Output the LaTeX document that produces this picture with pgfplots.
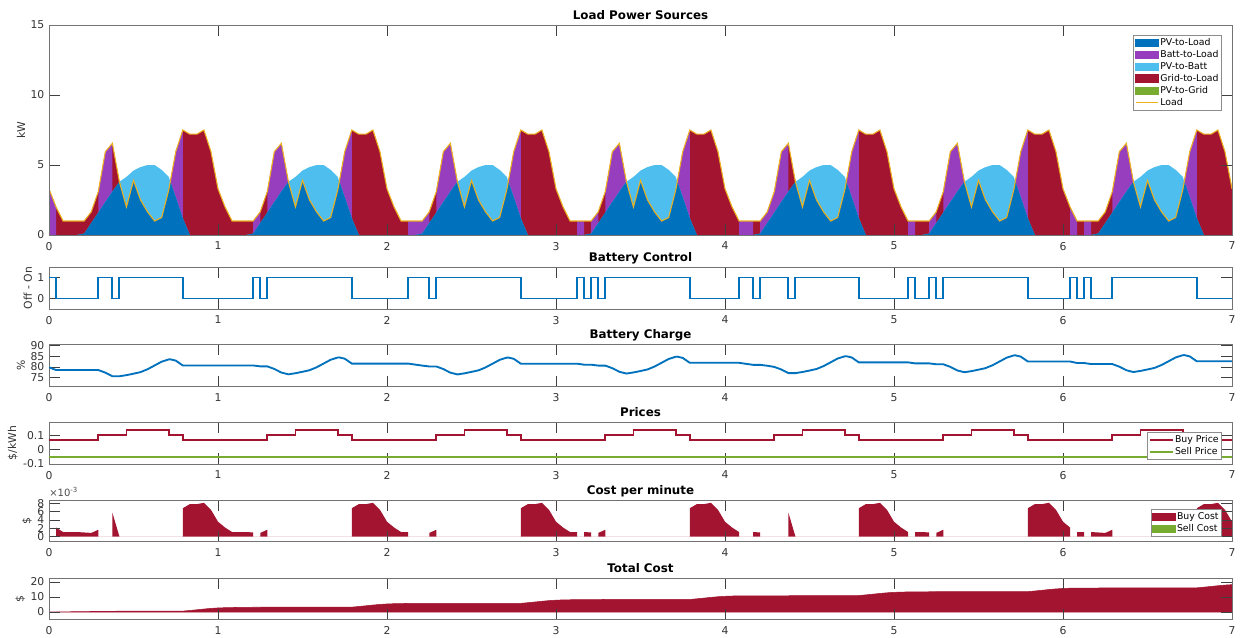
\documentclass[border=0pt]{standalone}
\usepackage{fontspec}
\setmainfont{DejaVu Sans}
\usepackage{pgfplots}
\usepackage{pgfplotstable}
\pgfplotsset{compat=1.18}
\definecolor{cPVL}{HTML}{0072BD}
\definecolor{cBatt}{RGB}{150,62,190}
\definecolor{cPVB}{HTML}{4DBEEE}
\definecolor{cGrid}{HTML}{A2142F}
\definecolor{cPVG}{HTML}{77AC30}
\definecolor{cLoad}{HTML}{EDB120}

% hourly data: h = hour since start (24 h = 1 day), L = load, P = PV, M = PV-to-Load
\pgfplotstableread{
h L P M
0 3.3 0 0
1 2.0 0 0
2 1.0 0 0
3 1.0 0 0
4 1.0 0 0
5 1.0 0.1 0.1
6 1.65 0.85 0.85
7 3.1 1.6 1.6
8 5.95 2.35 2.35
9 6.55 3.1 3.1
10 3.8 3.8 3.8
11 2.0 4.15 2.0
12 3.9 4.6 3.9
13 2.5 4.85 2.5
14 1.65 5.0 1.65
15 1.0 5.0 1.0
16 1.25 4.65 1.25
17 3.2 4.15 3.2
17.226 3.822 3.822 3.822
18 5.95 2.7 2.7
19 7.5 1.2 1.2
20 7.2 0 0
21 7.2 0 0
22 7.5 0 0
23 5.95 0 0
24 3.3 0 0
25 2.0 0 0
26 1.0 0 0
27 1.0 0 0
28 1.0 0 0
29 1.0 0.1 0.1
30 1.65 0.85 0.85
31 3.1 1.6 1.6
32 5.95 2.35 2.35
33 6.55 3.1 3.1
34 3.8 3.8 3.8
35 2.0 4.15 2.0
36 3.9 4.6 3.9
37 2.5 4.85 2.5
38 1.65 5.0 1.65
39 1.0 5.0 1.0
40 1.25 4.65 1.25
41 3.2 4.15 3.2
41.226 3.822 3.822 3.822
42 5.95 2.7 2.7
43 7.5 1.2 1.2
44 7.2 0 0
45 7.2 0 0
46 7.5 0 0
47 5.95 0 0
48 3.3 0 0
49 2.0 0 0
50 1.0 0 0
51 1.0 0 0
52 1.0 0 0
53 1.0 0.1 0.1
54 1.65 0.85 0.85
55 3.1 1.6 1.6
56 5.95 2.35 2.35
57 6.55 3.1 3.1
58 3.8 3.8 3.8
59 2.0 4.15 2.0
60 3.9 4.6 3.9
61 2.5 4.85 2.5
62 1.65 5.0 1.65
63 1.0 5.0 1.0
64 1.25 4.65 1.25
65 3.2 4.15 3.2
65.226 3.822 3.822 3.822
66 5.95 2.7 2.7
67 7.5 1.2 1.2
68 7.2 0 0
69 7.2 0 0
70 7.5 0 0
71 5.95 0 0
72 3.3 0 0
73 2.0 0 0
74 1.0 0 0
75 1.0 0 0
76 1.0 0 0
77 1.0 0.1 0.1
78 1.65 0.85 0.85
79 3.1 1.6 1.6
80 5.95 2.35 2.35
81 6.55 3.1 3.1
82 3.8 3.8 3.8
83 2.0 4.15 2.0
84 3.9 4.6 3.9
85 2.5 4.85 2.5
86 1.65 5.0 1.65
87 1.0 5.0 1.0
88 1.25 4.65 1.25
89 3.2 4.15 3.2
89.226 3.822 3.822 3.822
90 5.95 2.7 2.7
91 7.5 1.2 1.2
92 7.2 0 0
93 7.2 0 0
94 7.5 0 0
95 5.95 0 0
96 3.3 0 0
97 2.0 0 0
98 1.0 0 0
99 1.0 0 0
100 1.0 0 0
101 1.0 0.1 0.1
102 1.65 0.85 0.85
103 3.1 1.6 1.6
104 5.95 2.35 2.35
105 6.55 3.1 3.1
106 3.8 3.8 3.8
107 2.0 4.15 2.0
108 3.9 4.6 3.9
109 2.5 4.85 2.5
110 1.65 5.0 1.65
111 1.0 5.0 1.0
112 1.25 4.65 1.25
113 3.2 4.15 3.2
113.226 3.822 3.822 3.822
114 5.95 2.7 2.7
115 7.5 1.2 1.2
116 7.2 0 0
117 7.2 0 0
118 7.5 0 0
119 5.95 0 0
120 3.3 0 0
121 2.0 0 0
122 1.0 0 0
123 1.0 0 0
124 1.0 0 0
125 1.0 0.1 0.1
126 1.65 0.85 0.85
127 3.1 1.6 1.6
128 5.95 2.35 2.35
129 6.55 3.1 3.1
130 3.8 3.8 3.8
131 2.0 4.15 2.0
132 3.9 4.6 3.9
133 2.5 4.85 2.5
134 1.65 5.0 1.65
135 1.0 5.0 1.0
136 1.25 4.65 1.25
137 3.2 4.15 3.2
137.226 3.822 3.822 3.822
138 5.95 2.7 2.7
139 7.5 1.2 1.2
140 7.2 0 0
141 7.2 0 0
142 7.5 0 0
143 5.95 0 0
144 3.3 0 0
145 2.0 0 0
146 1.0 0 0
147 1.0 0 0
148 1.0 0 0
149 1.0 0.1 0.1
150 1.65 0.85 0.85
151 3.1 1.6 1.6
152 5.95 2.35 2.35
153 6.55 3.1 3.1
154 3.8 3.8 3.8
155 2.0 4.15 2.0
156 3.9 4.6 3.9
157 2.5 4.85 2.5
158 1.65 5.0 1.65
159 1.0 5.0 1.0
160 1.25 4.65 1.25
161 3.2 4.15 3.2
161.226 3.822 3.822 3.822
162 5.95 2.7 2.7
163 7.5 1.2 1.2
164 7.2 0 0
165 7.2 0 0
166 7.5 0 0
167 5.95 0 0
168 3.3 0 0
}\loadtab

\pgfplotsset{
  panel/.style={
    scale only axis, width=887.25pt, anchor=south west,
    xmin=0, xmax=168, xtick={0,24,48,72,96,120,144,168},
    xticklabels={0,1,2,3,4,5,6,7},
    tick align=inside, major tick length=8pt,
    axis line style={black!55, line width=0.5pt},
    major tick style={black!75, line width=0.5pt},
    ticklabel style={font=\fontsize{8.1}{9}\selectfont, text=black!80},
    xticklabel style={yshift=-1.8pt},
    /pgf/number format/assume math mode=true,
    title style={font=\bfseries\fontsize{8.9}{10}\selectfont, at={(0.5,1)}, anchor=base, yshift=-1.8pt},
    label style={font=\fontsize{8.1}{9}\selectfont, text=black!80},
    ylabel style={yshift=-2.8pt},
    legend cell align=left,
    legend style={draw=black!45, fill=white, font=\fontsize{7}{8}\selectfont,
      inner sep=1.2pt, nodes={inner sep=1.1pt}, row sep=0pt},
  },
}

\begin{document}
\begin{tikzpicture}
\path[use as bounding box] (0,0) rectangle (932.25pt,477.75pt);

% ---------------- Load Power Sources ----------------
\begin{axis}[panel, at={(36.75pt,301.5pt)}, height=157.5pt,
  ymin=0, ymax=15, ytick={0,5,10,15}, ylabel={kW}, axis on top,
  title={Load Power Sources},
  legend style={at={(0.9915,0.952)}, anchor=north east}]
\addplot[fill=cGrid, draw=none, forget plot] table[x=h,y=L]{\loadtab} \closedcycle;
\addplot[fill=cBatt, draw=none, forget plot] coordinates {
(0,3.3) (1,2.0) (1,0) (7,0) (7,3.1) (8,5.95) (9,6.55) (9,0) (10,0) (10,3.8) (11,2.0) (12,3.9) (13,2.5) (14,1.65) (15,1.0) (16,1.25) (17,3.2) (18,5.95) (19,7.5) (19,0)
(29,0) (29,1.0) (30,1.65) (30,0) (31,0) (31,3.1) (32,5.95) (33,6.55) (34,3.8) (35,2.0) (36,3.9) (37,2.5) (38,1.65) (39,1.0) (40,1.25) (41,3.2) (42,5.95) (43,7.5) (43,0)
(51,0) (51,1.0) (52,1.0) (53,1.0) (54,1.65) (54,0) (55,0) (55,3.1) (56,5.95) (57,6.55) (58,3.8) (59,2.0) (60,3.9) (61,2.5) (62,1.65) (63,1.0) (64,1.25) (65,3.2) (66,5.95) (67,7.5) (67,0)
(75,0) (75,1.0) (76,1.0) (76,0) (77,0) (77,1.0) (78,1.65) (78,0) (79,0) (79,3.1) (80,5.95) (81,6.55) (82,3.8) (83,2.0) (84,3.9) (85,2.5) (86,1.65) (87,1.0) (88,1.25) (89,3.2) (90,5.95) (91,7.5) (91,0)
(98,0) (98,1.0) (99,1.0) (100,1.0) (100,0) (101,0) (101,1.0) (102,1.65) (103,3.1) (104,5.95) (105,6.55) (105,0) (106,0) (106,3.8) (107,2.0) (108,3.9) (109,2.5) (110,1.65) (111,1.0) (112,1.25) (113,3.2) (114,5.95) (115,7.5) (115,0)
(122,0) (122,1.0) (123,1.0) (123,0) (125,0) (125,1.0) (126,1.65) (126,0) (127,0) (127,3.1) (128,5.95) (129,6.55) (130,3.8) (131,2.0) (132,3.9) (133,2.5) (134,1.65) (135,1.0) (136,1.25) (137,3.2) (138,5.95) (139,7.5) (139,0)
(145,0) (145,2.0) (146,1.0) (146,0) (147,0) (147,1.0) (148,1.0) (148,0) (151,0) (151,3.1) (152,5.95) (153,6.55) (154,3.8) (155,2.0) (156,3.9) (157,2.5) (158,1.65) (159,1.0) (160,1.25) (161,3.2) (162,5.95) (163,7.5) (163,0) (168,0)
} \closedcycle;
\addplot[fill=cPVB, draw=none, forget plot] table[x=h,y=P]{\loadtab} \closedcycle;
\addplot[fill=cPVL, draw=none, forget plot] table[x=h,y=M]{\loadtab} \closedcycle;
\addplot[cLoad, line width=0.8pt, forget plot] table[x=h,y=L]{\loadtab};
\addlegendimage{legend image code/.code={\fill[cPVL] (0pt,-2.6pt) rectangle (17pt,3pt);}}
\addlegendentry{PV-to-Load}
\addlegendimage{legend image code/.code={\fill[cBatt] (0pt,-2.6pt) rectangle (17pt,3pt);}}
\addlegendentry{Batt-to-Load}
\addlegendimage{legend image code/.code={\fill[cPVB] (0pt,-2.6pt) rectangle (17pt,3pt);}}
\addlegendentry{PV-to-Batt}
\addlegendimage{legend image code/.code={\fill[cGrid] (0pt,-2.6pt) rectangle (17pt,3pt);}}
\addlegendentry{Grid-to-Load}
\addlegendimage{legend image code/.code={\fill[cPVG] (0pt,-2.6pt) rectangle (17pt,3pt);}}
\addlegendentry{PV-to-Grid}
\addlegendimage{legend image code/.code={\draw[cLoad, line width=0.7pt] (0pt,0.2pt) -- (17pt,0.2pt);}}
\addlegendentry{Load}
\end{axis}

% ---------------- Battery Control ----------------
\begin{axis}[panel, at={(36.75pt,246pt)}, height=31.5pt,
  ymin=-0.5, ymax=1.5, ytick={0,1}, ylabel={Off - On},
  title={Battery Control}]
\addplot[cPVL, line width=1.4pt, const plot] coordinates {
(0,1) (1,0) (7,1) (9,0) (10,1) (19,0) (29,1) (30,0) (31,1) (43,0) (51,1) (54,0) (55,1) (67,0)
(75,1) (76,0) (77,1) (78,0) (79,1) (91,0) (98,1) (100,0) (101,1) (105,0) (106,1) (115,0)
(122,1) (123,0) (125,1) (126,0) (127,1) (139,0) (145,1) (146,0) (147,1) (148,0) (151,1) (163,0) (168,0)};
\end{axis}

% ---------------- Battery Charge ----------------
\begin{axis}[panel, at={(36.75pt,187.875pt)}, height=31.5pt,
  ymin=70.8, ymax=90.5, ytick={75,80,85,90}, ylabel={\%},
  title={Battery Charge}]
\addplot[cPVL, line width=1.4pt] coordinates {
(0,79.8) (1,78.53) (7,78.53) (8,77.31) (9,75.61) (10,75.61) (11,76.13) (12,76.81) (13,77.55) (14,78.91) (15,80.68) (16,82.45) (17,83.50) (17.23,83.55) (18,82.95) (19,80.66)
(29,80.66) (30,80.25) (31,80.25) (32,79.03) (33,77.34) (34,76.51) (35,77.03) (36,77.71) (37,78.44) (38,79.81) (39,81.57) (40,83.35) (41,84.39) (41.23,84.44) (42,83.84) (43,81.55)
(51,81.55) (52,81.07) (53,80.61) (54,80.2) (55,80.2) (56,78.98) (57,77.29) (58,76.46) (59,76.98) (60,77.66) (61,78.39) (62,79.76) (63,81.52) (64,83.3) (65,84.34) (65.23,84.39) (66,83.79) (67,81.5)
(75,81.5) (76,81.02) (77,81.02) (78,80.61) (79,80.61) (80,79.39) (81,77.7) (82,76.87) (83,77.39) (84,78.07) (85,78.8) (86,80.17) (87,81.93) (88,83.71) (89,84.75) (89.23,84.8) (90,84.2) (91,81.91)
(98,81.91) (99,81.43) (100,80.95) (101,80.95) (102,80.54) (103,79.99) (104,78.77) (105,77.08) (106,77.08) (107,77.6) (108,78.28) (109,79.01) (110,80.38) (111,82.14) (112,83.92) (113,84.96) (113.23,85.01) (114,84.41) (115,82.12)
(122,82.12) (123,81.64) (125,81.64) (126,81.23) (127,81.23) (128,80.01) (129,78.32) (130,77.49) (131,78.01) (132,78.69) (133,79.42) (134,80.79) (135,82.55) (136,84.33) (137,85.37) (137.23,85.42) (138,84.82) (139,82.53)
(145,82.53) (146,81.81) (147,81.81) (148,81.33) (151,81.33) (152,80.11) (153,78.42) (154,77.59) (155,78.11) (156,78.79) (157,79.52) (158,80.89) (159,82.65) (160,84.43) (161,85.47) (161.23,85.52) (162,84.92) (163,82.63) (168,82.63)};
\end{axis}

% ---------------- Prices ----------------
\begin{axis}[panel, at={(36.75pt,129.75pt)}, height=31.125pt,
  ymin=-0.1, ymax=0.187, ytick={-0.1,0,0.1}, yticklabels={-0.1,0,0.1}, ylabel={\$/kWh},
  title={Prices},
  legend style={at={(0.9915,0.1)}, anchor=south east}]
\addplot[cGrid, line width=1.4pt, const plot] coordinates {
(0,0.065) (7,0.1) (11,0.135) (17,0.1) (19,0.065) (31,0.1) (35,0.135) (41,0.1) (43,0.065)
(55,0.1) (59,0.135) (65,0.1) (67,0.065) (79,0.1) (83,0.135) (89,0.1) (91,0.065)
(103,0.1) (107,0.135) (113,0.1) (115,0.065) (127,0.1) (131,0.135) (137,0.1) (139,0.065)
(151,0.1) (155,0.135) (161,0.1) (163,0.065) (168,0.065)};
\addlegendentry{Buy Price}
\addplot[cPVG, line width=1.4pt] coordinates {(0,-0.05) (168,-0.05)};
\addlegendentry{Sell Price}
\end{axis}

% ---------------- Cost per minute (values in 1e-3 $) ----------------
\begin{axis}[panel, at={(36.75pt,71.625pt)}, height=31.125pt,
  ymin=-1.2, ymax=8.8, ytick={0,2,4,6,8}, ylabel={\$}, axis on top,
  clip mode=individual,
  title={Cost per minute},
  legend style={at={(0.9915,0.108)}, anchor=south east}]
\addplot[fill=cGrid, draw=none, forget plot] coordinates {
(0,0) (1,0) (1,2.167) (2,1.083) (3,1.083) (4,1.083) (5,0.975) (6,0.867) (7,1.625) (7,0) (9,0) (9,5.75) (10,0) (19,0)
(19,6.825) (20,7.8) (21,7.8) (22,8.125) (23,6.446) (24,3.575) (25,2.167) (26,1.083) (27,1.083) (28,1.083) (29,0.975) (29,0) (30,0) (30,0.867) (31,1.625) (31,0) (43,0)
(43,6.825) (44,7.8) (45,7.8) (46,8.125) (47,6.446) (48,3.575) (49,2.167) (50,1.083) (51,1.083) (51,0) (54,0) (54,0.867) (55,1.625) (55,0) (67,0)
(67,6.825) (68,7.8) (69,7.8) (70,8.125) (71,6.446) (72,3.575) (73,2.167) (74,1.083) (75,1.083) (75,0) (76,0) (76,1.083) (77,0.975) (77,0) (78,0) (78,0.867) (79,1.625) (79,0) (91,0)
(91,6.825) (92,7.8) (93,7.8) (94,8.125) (95,6.446) (96,3.575) (97,2.167) (98,1.083) (98,0) (100,0) (100,1.083) (101,0.975) (101,0) (105,0) (105,5.75) (106,0) (115,0)
(115,6.825) (116,7.8) (117,7.8) (118,8.125) (119,6.446) (120,3.575) (121,2.167) (122,1.083) (122,0) (123,0) (123,1.083) (124,1.083) (125,0.975) (125,0) (126,0) (126,0.867) (127,1.625) (127,0) (139,0)
(139,6.825) (140,7.8) (141,7.8) (142,8.125) (143,6.446) (144,3.575) (145,2.167) (145,0) (146,0) (146,1.083) (147,1.083) (147,0) (148,0) (148,1.083) (149,0.975) (150,0.867) (151,1.625) (151,0) (163,0)
(163,6.825) (164,7.8) (165,7.8) (166,8.125) (167,6.446) (168,3.575)} \closedcycle;
\addplot[draw=none, forget plot] coordinates {(0,0) (168,0)};
\addlegendimage{legend image code/.code={\fill[cGrid] (0pt,-2.6pt) rectangle (17pt,3pt);}}
\addlegendentry{Buy Cost}
\addlegendimage{legend image code/.code={\fill[cPVG] (0pt,-2.6pt) rectangle (17pt,3pt);}}
\addlegendentry{Sell Cost}
\node[anchor=south west, inner sep=0pt, yshift=2pt, font=\fontsize{7.5}{8}\selectfont, text=black!70] at (rel axis cs:0,1) {×10\textsuperscript{-3}};
\end{axis}

% ---------------- Total Cost ----------------
\begin{axis}[panel, at={(36.75pt,13.125pt)}, height=31.125pt,
  ymin=-5, ymax=22.7, ytick={0,10,20}, ylabel={\$}, axis on top,
  title={Total Cost}]
\addplot[fill=cGrid, draw=cGrid, line width=0.4pt] coordinates {
(0,0) (1,0) (2,0.098) (3,0.163) (4,0.228) (5,0.289) (6,0.345) (7,0.419) (9,0.419) (10,0.592) (19,0.592)
(20,1.031) (21,1.499) (22,1.976) (23,2.414) (24,2.714) (25,2.886) (26,2.984) (27,3.049) (28,3.114) (29,3.175) (30,3.175) (31,3.250) (43,3.250)
(44,3.689) (45,4.157) (46,4.635) (47,5.072) (48,5.372) (49,5.544) (50,5.642) (51,5.707) (54,5.707) (55,5.782) (67,5.782)
(68,6.221) (69,6.689) (70,7.166) (71,7.604) (72,7.904) (73,8.076) (74,8.174) (75,8.239) (76,8.239) (77,8.300) (78,8.300) (79,8.375) (91,8.375)
(92,8.814) (93,9.282) (94,9.760) (95,10.197) (96,10.497) (97,10.670) (98,10.767) (100,10.767) (101,10.829) (105,10.829) (106,11.001) (115,11.001)
(116,11.440) (117,11.908) (118,12.386) (119,12.823) (120,13.124) (121,13.296) (122,13.394) (123,13.394) (124,13.459) (125,13.520) (126,13.520) (127,13.595) (139,13.595)
(140,14.034) (141,14.502) (142,14.980) (143,15.417) (144,15.717) (145,15.889) (146,15.889) (147,15.954) (148,15.954) (149,16.016) (150,16.071) (151,16.146) (163,16.146)
(164,16.585) (165,17.053) (166,17.531) (167,17.968) (168,18.268)} \closedcycle;
\end{axis}
\end{tikzpicture}
\end{document}
